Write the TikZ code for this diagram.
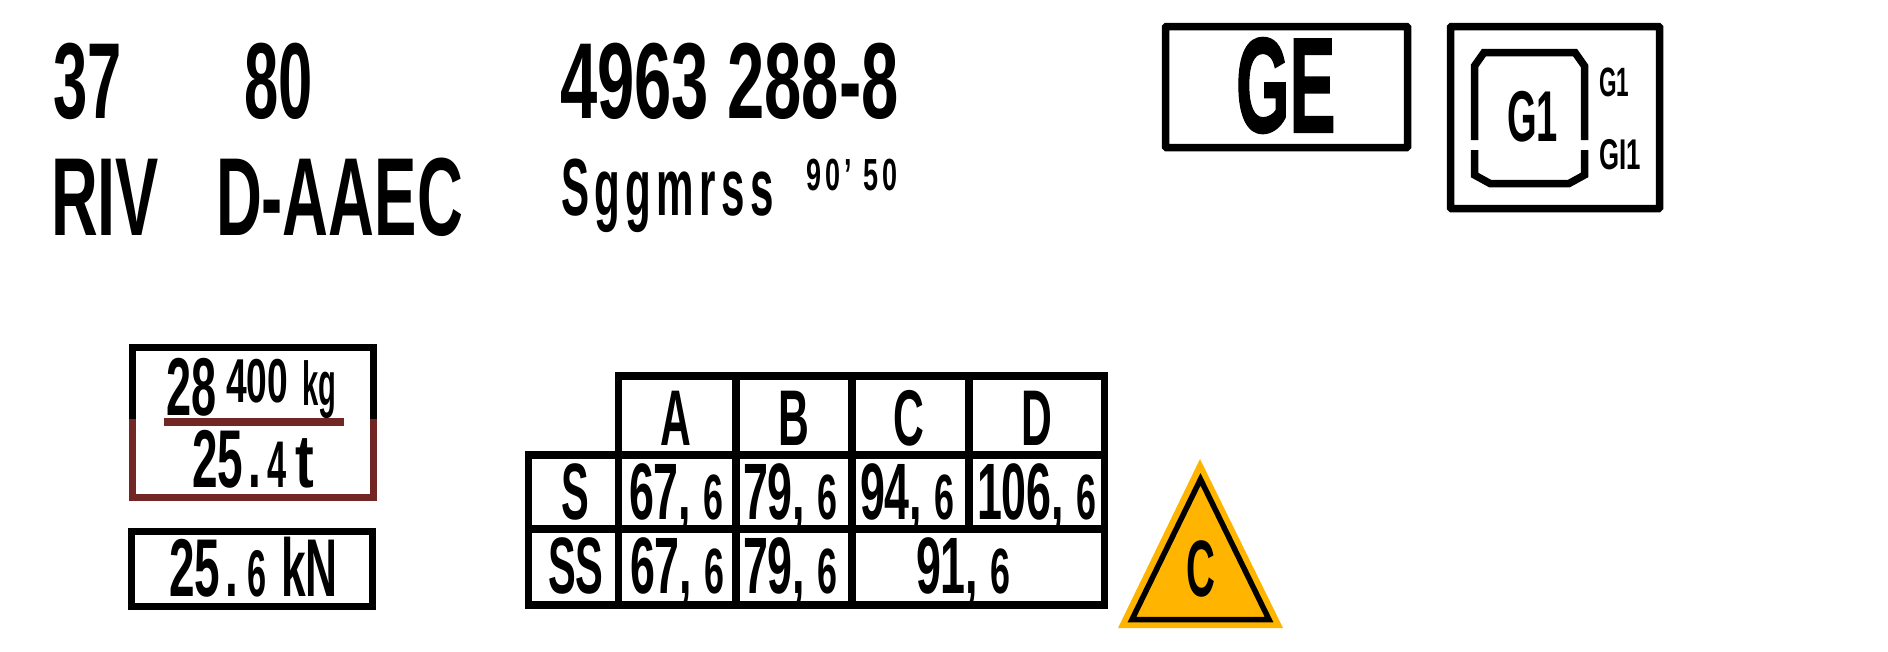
\documentclass[tikz,border=0pt]{standalone}
\usepackage{fontspec}
\usepackage{graphicx}
\setmainfont{Liberation Sans}
\definecolor{brakered}{HTML}{722725}
\definecolor{signorange}{HTML}{FFB400}
\newcommand{\signtxt}[3]{\scalebox{#1}[1]{\fontsize{#2}{#2}\selectfont\bfseries #3}}
\newcommand{\signval}[2]{\signtxt{0.56}{80}{#1,}\hspace{12pt}\signtxt{0.56}{64}{#2}}
\tikzset{
  signline/.style={black, line width=7.5pt},
  signtext/.style={anchor=base west, inner sep=0pt, outer sep=0pt}
}
\begin{document}
\begin{tikzpicture}[x=1pt, y=-1pt]
     \useasboundingbox (0,0) rectangle (1888,651);
     % marking on the top left
     \node[signtext] (num37) at (53,118) {\signtxt{0.57}{108}{37}};
     \node[signtext] (num80) at (244,118) {\signtxt{0.57}{108}{80}};
     \node[signtext] (numlong) at (560,118) {\signtxt{0.62}{108}{4963 288-8}};
     \node[signtext] (riv) at (51,235) {\signtxt{0.583}{111}{RIV}};
     \node[signtext] (aaec) at (216,235) {\signtxt{0.572}{111}{D-AAEC}};
     \node[signtext] (sgg) at (561,215) {\signtxt{0.52}{81}{\addfontfeature{LetterSpace=13}Sggmrss}};
     \node[signtext] (speed) at (806,190) {\signtxt{0.6}{45}{\addfontfeature{LetterSpace=15}90' 50}};
     % boxes on the top right
     \draw[signline, rounded corners=1pt] (1165.5,26.5) rectangle (1407.5,147.5);
     \node[signtext] (ge) at (1236,132) {\signtxt{0.51}{135}{\addfontfeature{FakeBold=1.5}GE}};
     \draw[signline, rounded corners=1pt] (1450.5,26.5) rectangle (1659.5,208.5);
     \draw[signline] (1474.5,140) -- (1474.5,66) -- (1484,52.5) -- (1575,52.5) -- (1584.5,66) -- (1584.5,140);
     \draw[signline] (1474.5,150) -- (1474.5,175) -- (1490,183.5) -- (1569,183.5) -- (1584.5,175) -- (1584.5,150);
     \node[signtext] (gabarit) at (1507,141) {\signtxt{0.53}{72}{G1}};
     \node[signtext] (gsmall) at (1599,96) {\signtxt{0.55}{41}{G1}};
     \node[signtext] (gismall) at (1599,169) {\signtxt{0.6}{43}{GI1}};
     % weight boxes
     \draw[signline] (132.5,419) -- (132.5,347.5) -- (373.5,347.5) -- (373.5,419);
     \draw[signline, brakered] (132.5,419) -- (132.5,497.5) -- (373.5,497.5) -- (373.5,419);
     \draw[brakered, line width=8pt] (164,422) -- (344,422);
     \node[signtext] (wbig) at (166,415) {\signtxt{0.55}{82}{28}};
     \node[signtext] (wsmall) at (226,402) {\signtxt{0.6}{62}{400}};
     \node[signtext] (wunit) at (302,405) {\signtxt{0.47}{62}{kg}};
     \node[signtext] (tbig) at (192,487) {\signtxt{0.56}{82}{25\kern10pt.}};
     \node[signtext] (tsmall) at (267,487) {\signtxt{0.52}{66}{4}};
     \node[signtext] (tunit) at (295,487) {\signtxt{0.75}{75}{t}};
     \draw[signline] (131.5,531.5) rectangle (372.5,606.5);
     \node[signtext] (kbig) at (169,596) {\signtxt{0.56}{82}{25\kern10pt.}};
     \node[signtext] (ksmall) at (247,596) {\signtxt{0.52}{66}{6}};
     \node[signtext] (kunit) at (281,596) {\signtxt{0.54}{82}{kN}};
     % load table
     \draw[signline] (618.5,605) -- (618.5,376) -- (1104.5,376) -- (1104.5,605) -- (528.5,605) -- (528.5,455) -- (1104.5,455);
     \draw[signline] (528.5,529) -- (1104.5,529);
     \draw[signline] (736,376) -- (736,605);
     \draw[signline] (852,376) -- (852,605);
     \draw[signline] (969,376) -- (969,529);
     \foreach \cname/\x in {A/660,B/778,C/893,D/1021}
       \node[signtext] (head\cname) at (\x,445) {\signtxt{0.54}{79}{\cname}};
     \node[signtext] (rowS) at (561,519) {\signtxt{0.52}{80}{S}};
     \node[signtext] (rowSS) at (548,593) {\signtxt{0.52}{80}{SS}};
     \foreach \whole/\x [count=\i] in {67/629,79/743,94/860,106/977}
       \node[signtext] (valS\i) at (\x,519) {\signval{\whole}{6}};
     \foreach \whole/\x [count=\i] in {67/630,79/743,91/916}
       \node[signtext] (valSS\i) at (\x,593) {\signval{\whole}{6}};
     % warning triangle
     \fill[signorange] (1200,459) -- (1283,628) -- (1118,628) -- cycle;
     \draw[black, line width=5.5pt] (1200.5,479.3) -- (1269,619.5) -- (1132,619.5) -- cycle;
     \node[signtext] (tric) at (1186,596) {\signtxt{0.5}{80}{C}};
\end{tikzpicture}
\end{document}
